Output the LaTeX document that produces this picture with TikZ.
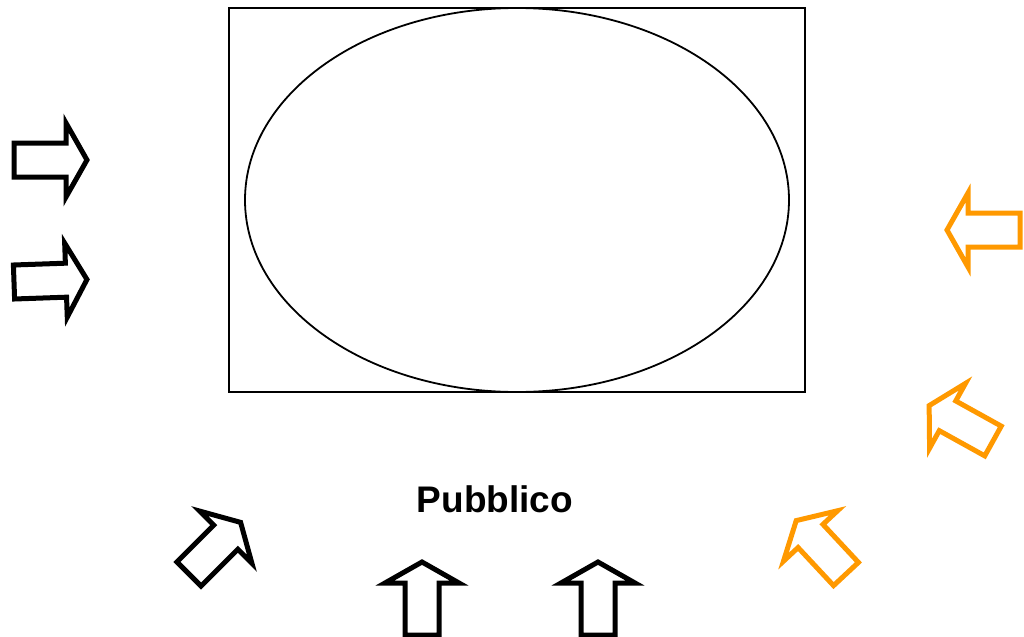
\documentclass[tikz,border=0pt]{standalone}
\usepackage{fontspec}
\setmainfont{Liberation Sans}
\usepackage{xcolor}
\usepackage{tikz}
\definecolor{arrorange}{HTML}{FF9900}

\begin{document}
\begin{tikzpicture}[
    x=0.5pt, y=-0.5pt,
    frame/.style={draw=black, line width=0.9pt},
    blockarr/.pic={\draw[pic actions] (0,-17) -- (52,-17) -- (52,-37) -- (73,0) -- (52,37) -- (52,17) -- (0,17) -- cycle;},
    blackarr/.style={draw=black, line width=2.5pt, line join=miter},
    orangearr/.style={draw=arrorange, line width=2.5pt, line join=miter},
    label/.style={font=\bfseries\fontsize{18.5}{22}\selectfont, inner sep=0pt}
]
\useasboundingbox (0,0) rectangle (1024,637);

% stage with the oval
\draw[frame] (229,8) rectangle (805,392);
\draw[frame] (517,200) ellipse [x radius=272, y radius=192];

\node[label] (pubblico) at (495,499) {Pubblico};

% black arrows
\pic[blackarr] at (14,160) {blockarr};
\pic[blackarr, rotate=2] at (14,282) {blockarr};
\pic[blackarr, rotate=45] at (189,574) {blockarr};
\pic[blackarr, rotate=90] at (422,635) {blockarr};
\pic[blackarr, rotate=90] at (598,635) {blockarr};

% orange arrows
\pic[orangearr, rotate=180] at (1020,230) {blockarr};
\pic[orangearr, rotate=151] at (993,441) {blockarr};
\pic[orangearr, rotate=133] at (846,574) {blockarr};
\end{tikzpicture}
\end{document}
